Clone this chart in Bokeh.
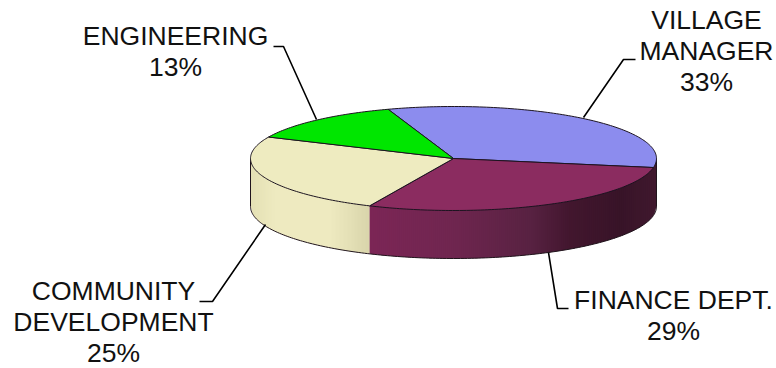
from math import cos, radians, sin, sqrt

from bokeh.core.properties import value
from bokeh.embed import file_html
from bokeh.models import ColumnDataSource, Range1d
from bokeh.plotting import figure
from bokeh.resources import INLINE

# Departmental shares, clockwise from the first slice
departments = ["VILLAGE MANAGER", "FINANCE DEPT.", "COMMUNITY DEVELOPMENT", "ENGINEERING"]
shares = [33, 29, 25, 13]
top_colors = ["#8C8CEE", "#8B2C60", "#EEEBC0", "#00E600"]

# Label text, one entry per line
label_lines = [
    ["VILLAGE", "MANAGER", "33%"],
    ["FINANCE DEPT.", "29%"],
    ["COMMUNITY", "DEVELOPMENT", "25%"],
    ["ENGINEERING", "13%"],
]
label_centers = [(706, 50.5), (673, 315), (113, 321), (175, 50.5)]
leaders = [
    ([583, 623, 635], [117, 59, 59]),
    ([548, 557, 568], [252, 308, 308]),
    ([265, 212, 199], [224, 301, 301]),
    ([316, 283, 273], [119, 46, 46]),
]

# Ellipse geometry of the tilted disc, in page pixels
CX, CY, RX, RY, DEPTH = 453, 158, 203, 52, 48
START_DEG = -18.8

# Shading along the rim, as (x, colour) stops
maroon_stops = [(367, (124, 38, 86)), (450, (112, 38, 80)), (530, (88, 34, 66)),
                (570, (66, 22, 46)), (620, (56, 20, 40)), (656, (64, 24, 46))]
cream_stops = [(250, (228, 224, 180)), (275, (238, 234, 192)), (330, (238, 234, 192)),
               (367, (218, 214, 172))]


def point(deg, drop=0.0):
    a = radians(deg)
    return CX + RX * sin(a), CY - RY * cos(a) + drop


def shade(x, stops):
    for (x0, c0), (x1, c1) in zip(stops, stops[1:]):
        if x <= x1:
            t = max(0.0, (x - x0) / (x1 - x0))
            return "#%02x%02x%02x" % tuple(round(a + (b - a) * t) for a, b in zip(c0, c1))
    return "#%02x%02x%02x" % stops[-1][1]


def near_y(x):
    """Height of the front half of the top ellipse at page x."""
    u = min(1.0, abs(x - CX) / RX)
    return CY + RY * sqrt(1 - u * u)


p = figure(width=776, height=368, output_backend="svg", toolbar_location=None,
           x_range=Range1d(0, 776), y_range=Range1d(368, 0), min_border=0)
p.axis.visible = False
p.grid.visible = False
p.outline_line_color = None
p.background_fill_color = "white"

# Slice boundaries in degrees clockwise from the top of the ellipse
edges = [START_DEG]
for s in shares:
    edges.append(edges[-1] + s * 3.6)

# Rim drawn as overlapping vertical strips, left to right, so no seams show
split_x = point(edges[2])[0]
xs, ys, fills = [], [], []
x = CX - RX
while x < CX + RX:
    x1 = min(x + 2, CX + RX)
    stops = cream_stops if x < split_x else maroon_stops
    if x < split_x < x1:
        x1 = split_x
    # Each strip runs a little past its right end, the next one covers the excess
    x2 = min(x1 + 1, CX + RX) if x1 != split_x else x1
    xs.append([x, x2, x2, x])
    ys.append([CY, CY, near_y(x2) + DEPTH, near_y(x) + DEPTH])
    fills.append(shade((x + x1) / 2, stops))
    x = x1
p.patches(xs, ys, fill_color=fills, line_color=None)

# Lower rim outline and the two silhouette edges
steps = 180
rim = [point(90 + 180 * i / steps, DEPTH) for i in range(steps + 1)]
p.line([CX + RX] + [q[0] for q in rim] + [CX - RX],
       [CY] + [q[1] for q in rim] + [CY], line_color="#20141c", line_width=1)

# Top faces of the slices
for a0, a1, color in zip(edges, edges[1:], top_colors):
    n = max(int(a1 - a0), 2)
    arc = [point(a0 + (a1 - a0) * i / n) for i in range(n + 1)]
    p.patch([CX] + [q[0] for q in arc], [CY] + [q[1] for q in arc],
            fill_color=color, line_color="#1c1420", line_width=1)

# Leader lines
for lx, ly in leaders:
    p.line(lx, ly, line_color="black", line_width=1.6)

# Labels
tx, ty, tt = [], [], []
LINE_HEIGHT = 31
for lines, (cx, cy) in zip(label_lines, label_centers):
    top = cy - LINE_HEIGHT * (len(lines) - 1) / 2
    for i, line in enumerate(lines):
        tx.append(cx)
        ty.append(top + i * LINE_HEIGHT)
        tt.append(line)
p.text(x="x", y="y", text="t", source=ColumnDataSource(dict(x=tx, y=ty, t=tt)),
       text_font=value("Liberation Sans"), text_font_size="26.5px", text_color="#111111",
       text_align="center", text_baseline="middle")

open("out.html", "w").write(file_html(p, INLINE))
